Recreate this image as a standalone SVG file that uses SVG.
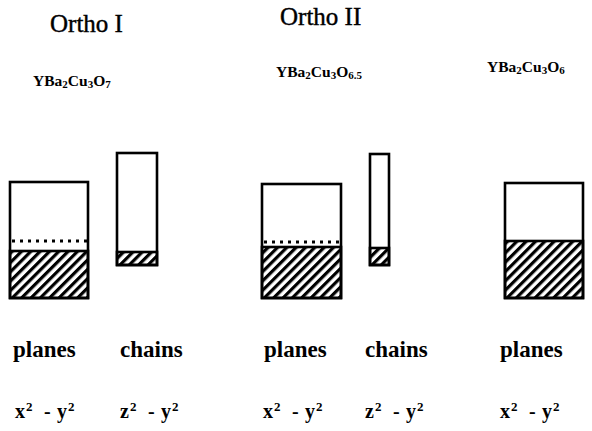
<svg xmlns="http://www.w3.org/2000/svg" width="592" height="431" viewBox="0 0 592 431">
<defs>
<pattern id="hatch" width="6.6" height="6.6" patternUnits="userSpaceOnUse" patternTransform="rotate(45)">
<rect x="0" y="0" width="3.2" height="6.6" fill="#000"/>
</pattern>
<style>
.box{fill:#fff;stroke:#000;stroke-width:2.6}
.hatch{fill:url(#hatch);stroke:#000;stroke-width:2.6}
.dot{stroke:#000;stroke-width:3;stroke-dasharray:3 5;fill:none}
.title{font-family:"Liberation Serif",serif;font-size:25px;fill:#000;stroke:#000;stroke-width:0.4}
.formula{font-family:"Liberation Serif",serif;font-size:15.5px;font-weight:bold;fill:#000}
.sub{font-size:11px}
.label{font-family:"Liberation Serif",serif;font-size:23px;font-weight:bold;fill:#000}
.orb{font-family:"Liberation Serif",serif;font-size:20px;font-weight:bold;fill:#000}
.sup{font-size:13px}
</style>
</defs>
<rect width="592" height="431" fill="#fff"/>

<g id="ortho1-planes">
<rect class="box" x="10" y="182" width="78" height="116"/>
<rect class="hatch" x="10" y="251" width="78" height="47"/>
<line class="dot" x1="12" y1="241" x2="88" y2="241"/>
</g>
<g id="ortho1-chains">
<rect class="box" x="117" y="153" width="40" height="112"/>
<rect class="hatch" x="117" y="252" width="40" height="13"/>
</g>
<g id="ortho2-planes">
<rect class="box" x="262" y="184" width="79" height="114"/>
<rect class="hatch" x="262" y="247" width="79" height="51"/>
<line class="dot" x1="264" y1="242" x2="341" y2="242"/>
</g>
<g id="ortho2-chains">
<rect class="box" x="370" y="154" width="19" height="111"/>
<rect class="hatch" x="370" y="248" width="19" height="17"/>
</g>
<g id="o6-planes">
<rect class="box" x="505" y="183" width="78" height="115"/>
<rect class="hatch" x="505" y="241" width="78" height="57"/>
</g>

<g id="titles">
<text class="title" x="50" y="32">Ortho I</text>
<text class="title" x="280" y="25">Ortho II</text>
</g>
<g id="formulas">
<text class="formula" x="33" y="86">YBa<tspan class="sub" dy="2">2</tspan><tspan dy="-2">Cu</tspan><tspan class="sub" dy="2">3</tspan><tspan dy="-2">O</tspan><tspan class="sub" dy="2">7</tspan></text>
<text class="formula" x="276" y="77">YBa<tspan class="sub" dy="2">2</tspan><tspan dy="-2">Cu</tspan><tspan class="sub" dy="2">3</tspan><tspan dy="-2">O</tspan><tspan class="sub" dy="2">6.5</tspan></text>
<text class="formula" x="487" y="72">YBa<tspan class="sub" dy="2">2</tspan><tspan dy="-2">Cu</tspan><tspan class="sub" dy="2">3</tspan><tspan dy="-2">O</tspan><tspan class="sub" dy="2">6</tspan></text>
</g>
<g id="labels">
<text class="label" x="13" y="357">planes</text>
<text class="label" x="120" y="357">chains</text>
<text class="label" x="264" y="357">planes</text>
<text class="label" x="365" y="357">chains</text>
<text class="label" x="500" y="357">planes</text>
</g>
<g id="orbitals">
<text class="orb" y="418"><tspan x="15">x</tspan><tspan class="sup" x="26" y="411">2</tspan><tspan x="44" y="418">-</tspan><tspan x="57">y</tspan><tspan class="sup" x="68" y="411">2</tspan></text>
<text class="orb" y="418"><tspan x="120">z</tspan><tspan class="sup" x="130" y="411">2</tspan><tspan x="148" y="418">-</tspan><tspan x="161">y</tspan><tspan class="sup" x="172" y="411">2</tspan></text>
<text class="orb" y="418"><tspan x="263">x</tspan><tspan class="sup" x="274" y="411">2</tspan><tspan x="292" y="418">-</tspan><tspan x="305">y</tspan><tspan class="sup" x="316" y="411">2</tspan></text>
<text class="orb" y="418"><tspan x="365">z</tspan><tspan class="sup" x="375" y="411">2</tspan><tspan x="393" y="418">-</tspan><tspan x="406">y</tspan><tspan class="sup" x="417" y="411">2</tspan></text>
<text class="orb" y="418"><tspan x="500">x</tspan><tspan class="sup" x="511" y="411">2</tspan><tspan x="529" y="418">-</tspan><tspan x="542">y</tspan><tspan class="sup" x="553" y="411">2</tspan></text>
</g>
</svg>
